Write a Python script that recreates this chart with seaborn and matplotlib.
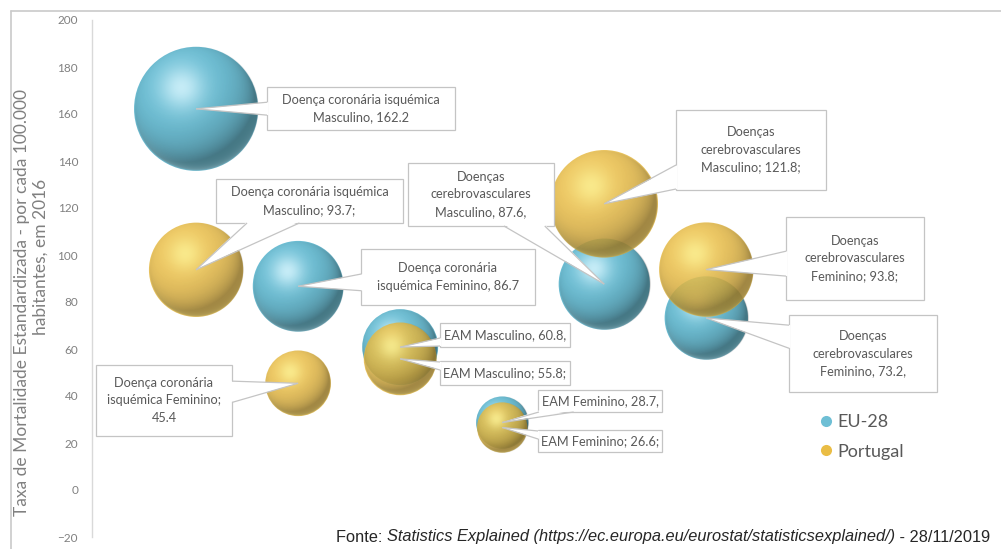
import numpy as np
import pandas as pd
import matplotlib
matplotlib.use("Agg")
import matplotlib.pyplot as plt
from matplotlib.lines import Line2D
from matplotlib.patches import Rectangle, Polygon
import seaborn as sns

# ---- data -------------------------------------------------------------
causes = [
    "Doença coronária isquémica Masculino",
    "Doença coronária isquémica Feminino",
    "EAM Masculino",
    "EAM Feminino",
    "Doenças cerebrovasculares Masculino",
    "Doenças cerebrovasculares Feminino",
]
cause_pos = [1, 2, 3, 4, 5, 6]
eu28 = [162.2, 86.7, 60.8, 28.7, 87.6, 73.2]
portugal = [93.7, 45.4, 55.8, 26.6, 121.8, 93.8]

eu28_labels = [
    "Doença coronária isquémica\nMasculino, {v}",
    "Doença coronária\nisquémica Feminino, {v}",
    "EAM Masculino, {v},",
    "EAM Feminino, {v},",
    "Doenças\ncerebrovasculares\nMasculino, {v},",
    "Doenças\ncerebrovasculares\nFeminino, {v},",
]
portugal_labels = [
    "Doença coronária isquémica\nMasculino; {v};",
    "Doença coronária\nisquémica Feminino;\n{v}",
    "EAM Masculino; {v};",
    "EAM Feminino; {v};",
    "Doenças\ncerebrovasculares\nMasculino; {v};",
    "Doenças\ncerebrovasculares\nFeminino; {v};",
]
regions = ["EU-28", "Portugal"]

# label boxes: centre and size in figure pixels (from top-left)
eu28_boxes = [(361, 108.5, 188, 43), (448, 277, 173, 56), (505, 335, 130, 24),
              (600, 401, 124, 22), (481, 194.5, 146, 63), (863, 353.5, 148, 77)]
portugal_boxes = [(309.5, 201, 187, 44), (164, 400.5, 136, 71), (505, 373, 130, 24),
                  (600, 441, 124, 22), (751, 150, 150, 80), (855, 258.5, 138, 83)]

# ---- style ------------------------------------------------------------
sns.set_theme(style="white")
plt.rcParams["font.family"] = ["Lato", "DejaVu Sans"]

BLUE = "#6EBFD5"
GOLD = "#EABD45"
BLUE_HI = (0.86, 0.97, 1.0)
GOLD_HI = (1.0, 0.98, 0.62)
GREY_TXT = "#595959"
AXIS_TXT = "#808080"
BOX_EDGE = "#C4C4C4"

DPI = 100
W, H = 1001, 549
fig = plt.figure(figsize=(W / DPI, H / DPI), dpi=DPI)
ax = fig.add_axes([92 / W, (H - 537) / H, 900 / W, 517 / H])

XLIM = (-0.02, 8.8)
YLIM = (-20, 200)

# bubble area proportional to the value (points^2 per unit)
AREA_K = 49.2
size_norm = (0, 200)
size_range = (0, AREA_K * 200)
PT_ALPHA = 0.84

df_eu = pd.DataFrame({"pos": cause_pos, "valor": eu28, "causa": causes})
df_pt = pd.DataFrame({"pos": cause_pos, "valor": portugal, "causa": causes})

sns.scatterplot(data=df_eu, x="pos", y="valor", size="valor",
                sizes=size_range, size_norm=size_norm, color=BLUE,
                linewidth=0, alpha=1.0, legend=False, ax=ax, zorder=2)
sns.scatterplot(data=df_pt, x="pos", y="valor", size="valor",
                sizes=size_range, size_norm=size_norm, color=GOLD,
                linewidth=0, alpha=PT_ALPHA, legend=False, ax=ax, zorder=4)
ax.set_xlim(*XLIM)
ax.set_ylim(*YLIM)
ax.set_xlabel("")
ax.set_ylabel("")


# ---- sphere lighting on top of each flat bubble -----------------------
def sphere_light(hi_color, n=220):
    v, u = np.mgrid[-1:1:n * 1j, -1:1:n * 1j]
    r = np.hypot(u, v)
    z = np.sqrt(np.clip(1 - r ** 2, 0, 1))
    L = np.array([-0.35, 0.5, 0.79])
    L = L / np.linalg.norm(L)
    diff = np.clip(u * L[0] + v * L[1] + z * L[2], 0, 1)
    edge = np.clip((1 - r) / 0.02, 0, 1)
    shade = np.zeros((n, n, 4))
    shade[..., 3] = 0.38 * (1 - diff) ** 1.8 * edge
    spec = np.exp(-((u + 0.24) ** 2 + (v - 0.34) ** 2) / 0.13)
    rim = np.exp(-(1 - np.clip(r, 0, 1)) / 0.07) * np.clip(-v - 0.1, 0, 1)
    light = np.ones((n, n, 4))
    light[..., :3] = hi_color
    light[..., 3] = np.clip(0.8 * spec + 0.4 * rim, 0, 1) * edge
    return shade, light


p00 = ax.transData.transform((0, 0))
px_per_x = ax.transData.transform((1, 0))[0] - p00[0]
px_per_y = ax.transData.transform((0, 1))[1] - p00[1]

for values, hi, z0, a in [(eu28, BLUE_HI, 2.5, 1.0), (portugal, GOLD_HI, 4.5, PT_ALPHA)]:
    shade, light = sphere_light(hi)
    shade[..., 3] *= a
    light[..., 3] *= a
    for xpos, val in zip(cause_pos, values):
        r_px = np.sqrt(AREA_K * val) / 2 * DPI / 72
        dx, dy = r_px / px_per_x, r_px / px_per_y
        ext = (xpos - dx, xpos + dx, val - dy, val + dy)
        ax.imshow(shade, extent=ext, origin="lower", aspect="auto",
                  interpolation="bilinear", zorder=z0)
        ax.imshow(light, extent=ext, origin="lower", aspect="auto",
                  interpolation="bilinear", zorder=z0 + 0.1)

ax.set_xlim(*XLIM)
ax.set_ylim(*YLIM)

inv = ax.transData.inverted()


def px_to_data(px, py):
    return inv.transform((px, H - py))


def data_to_px(x, y):
    dx, dy = ax.transData.transform((x, y))
    return dx, H - dy


# ---- callouts (box + wedge pointing at the bubble centre) -------------
def callout(text, xy, box):
    cx, cy, bw, bh = box
    hw, hh = bw / 2, bh / 2
    x0, y0 = px_to_data(cx - hw, cy + hh)
    x1, y1 = px_to_data(cx + hw, cy - hh)
    ax.add_patch(Rectangle((x0, y0), x1 - x0, y1 - y0, fc="white",
                           ec=BOX_EDGE, lw=0.9, zorder=7))

    tx, ty = data_to_px(*xy)
    ddx, ddy = tx - cx, ty - cy
    sx = hw / abs(ddx) if ddx else np.inf
    sy = hh / abs(ddy) if ddy else np.inf
    if sx < sy:  # leaves through a vertical side
        ex = cx + np.sign(ddx) * hw
        b = max(0.15 * bh, 4)
        ey = np.clip(cy + ddy * sx, cy - hh + b + 1, cy + hh - b - 1)
        base = [(ex, ey - b), (ex, ey + b)]
        inner = [(ex - np.sign(ddx) * 1.5, ey - b), (ex - np.sign(ddx) * 1.5, ey + b)]
    else:  # leaves through top or bottom
        ey = cy + np.sign(ddy) * hh
        b = max(0.14 * bw, 4)
        ex = np.clip(cx + ddx * sy, cx - hw + b + 1, cx + hw - b - 1)
        base = [(ex - b, ey), (ex + b, ey)]
        inner = [(ex - b, ey - np.sign(ddy) * 1.5), (ex + b, ey - np.sign(ddy) * 1.5)]
    fill = [px_to_data(*p) for p in (inner[0], (tx, ty), inner[1])]
    ax.add_patch(Polygon(fill, closed=True, fc="white", ec="none", zorder=7.5))
    for p in base:
        ax.plot([px_to_data(*p)[0], xy[0]], [px_to_data(*p)[1], xy[1]],
                color=BOX_EDGE, lw=0.9, zorder=7.6, solid_capstyle="butt")

    tcx, tcy = px_to_data(cx, cy)
    ax.text(tcx, tcy, text, ha="center", va="center", fontsize=9.2,
            color=GREY_TXT, linespacing=1.55, zorder=8)


for xpos, val, fmt, box in zip(cause_pos, eu28, eu28_labels, eu28_boxes):
    callout(fmt.format(v=f"{val:.1f}"), (xpos, val), box)
for xpos, val, fmt, box in zip(cause_pos, portugal, portugal_labels, portugal_boxes):
    callout(fmt.format(v=f"{val:.1f}"), (xpos, val), box)

ax.set_xlim(*XLIM)
ax.set_ylim(*YLIM)

# ---- axes -------------------------------------------------------------
ax.set_yticks(np.arange(-20, 201, 20))
ax.set_xticks([])
ax.tick_params(axis="y", length=0, pad=10, labelsize=8.5, labelcolor=AXIS_TXT)
for s in ["top", "right", "bottom"]:
    ax.spines[s].set_visible(False)
ax.spines["left"].set_color("#D9D9D9")
ax.spines["left"].set_linewidth(1.0)
ax.set_facecolor("none")

# two-line axis title
fig.text(22 / W, 1 - 302 / H,
         "Taxa de Mortalidade Estandardizada - por cada 100.000",
         rotation=90, ha="center", va="center", fontsize=12.5, color=AXIS_TXT)
fig.text(41 / W, 1 - 257 / H, "habitantes, em 2016",
         rotation=90, ha="center", va="center", fontsize=12.5, color=AXIS_TXT)

# legend
handles = [Line2D([], [], marker="o", ls="", markersize=8, markerfacecolor=c,
                  markeredgewidth=0) for c in (BLUE, GOLD)]
fig.legend(handles, regions, loc="upper left",
           bbox_to_anchor=(819 / W, 1 - 414 / H), frameon=False,
           fontsize=13, labelcolor=GREY_TXT, handletextpad=0.2,
           labelspacing=0.75, handlelength=0.8, borderpad=0, borderaxespad=0)

# ---- frame and source --------------------------------------------------
fig.add_artist(Line2D([11 / W, 1], [1 - 11 / H, 1 - 11 / H], color="#CACACA", lw=1.2))
fig.add_artist(Line2D([11 / W, 11 / W], [0, 1 - 11 / H], color="#CACACA", lw=1.2))

src_font = ["Liberation Sans", "DejaVu Sans"]
src_y = 1 - 537 / H
renderer = fig.canvas.get_renderer()
t3 = fig.text(990 / W, src_y, " - 28/11/2019", ha="right", va="center",
              fontsize=11.8, family=src_font, color="#262626")
x3 = t3.get_window_extent(renderer).x0
t2 = fig.text(x3 / W, src_y,
              "Statistics Explained (https://ec.europa.eu/eurostat/statisticsexplained/)",
              ha="right", va="center", fontsize=11.8, family=src_font,
              style="italic", color="#262626")
x2 = t2.get_window_extent(renderer).x0
fig.text(x2 / W, src_y, "Fonte: ", ha="right", va="center", fontsize=11.8,
         family=src_font, color="#262626")

fig.savefig("out.png", dpi=DPI)
